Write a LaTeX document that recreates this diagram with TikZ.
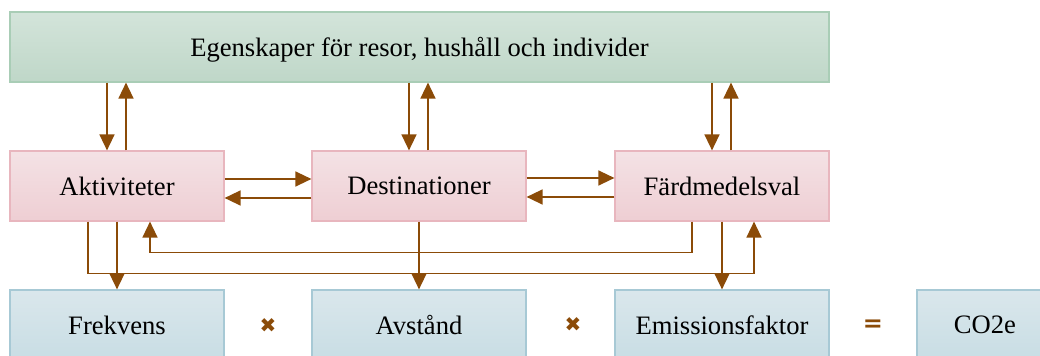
\documentclass[tikz,border=0pt]{standalone}
\usepackage{fontspec}
\setmainfont{Liberation Serif}
\newfontfamily\symbfont{DejaVu Sans}
\usetikzlibrary{arrows.meta}
\definecolor{egtop}{HTML}{D3E4DA}
\definecolor{egbot}{HTML}{BFD7C8}
\definecolor{egline}{HTML}{A9CDB6}
\definecolor{sttop}{HTML}{F4E2E5}
\definecolor{stbot}{HTML}{EECED3}
\definecolor{stline}{HTML}{E8B6BE}
\definecolor{uttop}{HTML}{DAE7EC}
\definecolor{utbot}{HTML}{C8DDE4}
\definecolor{utline}{HTML}{A7C9D5}
\definecolor{pil}{HTML}{8B4B08}
\tikzset{
  box/.style={draw, line width=0.6pt, minimum width=107pt, minimum height=35pt,
    inner sep=0pt, text depth=0pt, font=\fontsize{13.3}{15}\selectfont},
  egbox/.style={box, draw=egline, top color=egtop, bottom color=egbot, minimum width=409.5pt},
  stegbox/.style={box, draw=stline, top color=sttop, bottom color=stbot},
  utbox/.style={box, draw=utline, top color=uttop, bottom color=utbot},
  arr/.style={draw=pil, line width=0.75pt, -{Triangle[width=7.5pt,length=8pt]}},
  op/.style={text=pil, inner sep=0pt}
}
\begin{document}
\begin{tikzpicture}[x=0.5pt,y=-0.5pt]
        \useasboundingbox (0,0) rectangle (1040,356);
        \clip (0,0) rectangle (1040,356);
        % boxes
        \node[egbox] (egen) at (419.5,47) {Egenskaper för resor, hushåll och individer};
        \node[stegbox] (akt) at (117,186) {Aktiviteter};
        \node[stegbox] (dest) at (419,186) {Destinationer};
        \node[stegbox] (fard) at (722,186) {Färdmedelsval};
        \node[utbox] (frek) at (117,325) {Frekvens};
        \node[utbox] (avst) at (419,325) {Avstånd};
        \node[utbox] (emis) at (722,325) {Emissionsfaktor};
        \node[utbox, minimum width=68pt] (co2) at (985,325) {CO2e};
        \node[op, font=\symbfont\fontsize{10}{10}\selectfont] (gg1) at (268,326) {✖};
        \node[op, font=\symbfont\fontsize{10}{10}\selectfont] (gg2) at (573,325) {✖};
        \node[op, font=\symbfont\bfseries\fontsize{12}{12}\selectfont] (lika) at (873,326) {=};
        % arrows to and from the top box
        \foreach \n in {akt,dest,fard}{
          \draw[arr] ([xshift=-5pt]egen.south -| \n.north) -- ([xshift=-5pt]\n.north);
          \draw[arr] ([xshift=4.5pt]\n.north) -- ([xshift=4.5pt]egen.south -| \n.north);
        }
        \draw[arr] ([yshift=3.5pt]akt.east) -- ([yshift=3.5pt]dest.west);
        \draw[arr] ([yshift=-6pt]dest.west) -- ([yshift=-6pt]akt.east);
        \draw[arr] ([yshift=4pt]dest.east) -- ([yshift=4pt]fard.west);
        \draw[arr] ([yshift=-5.5pt]fard.west) -- ([yshift=-5.5pt]dest.east);
        % feedback loops
        \draw[arr] ([xshift=-14.5pt]akt.south) -- ++(0,-26pt) -| ([xshift=16pt]fard.south);
        \draw[arr] ([xshift=-15pt]fard.south) -- ++(0,-15.5pt) -| ([xshift=16.5pt]akt.south);
        % down to the factors
        \draw[arr] (akt) -- (frek);
        \draw[arr] (dest) -- (avst);
        \draw[arr] (fard) -- (emis);
\end{tikzpicture}
\end{document}
